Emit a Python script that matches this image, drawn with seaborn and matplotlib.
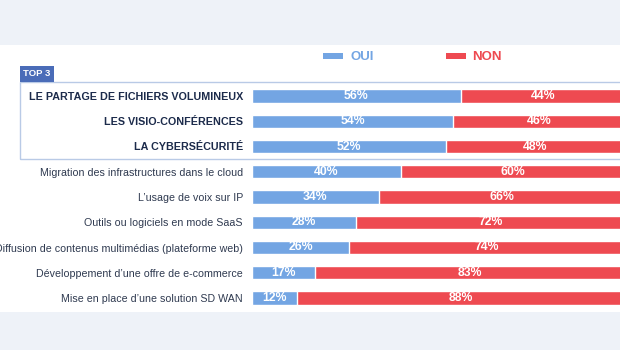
import numpy as np
import pandas as pd
import seaborn as sns
from matplotlib import pyplot as plt
from matplotlib.patches import Rectangle

categories = [
    "LE PARTAGE DE FICHIERS VOLUMINEUX",
    "LES VISIO-CONFÉRENCES",
    "LA CYBERSÉCURITÉ",
    "Migration des infrastructures dans le cloud",
    "L’usage de voix sur IP",
    "Outils ou logiciels en mode SaaS",
    "Diffusion de contenus multimédias (plateforme web)",
    "Développement d’une offre de e-commerce",
    "Mise en place d’une solution SD WAN",
]
oui = [56, 54, 52, 40, 34, 28, 26, 17, 12]
non = [44, 46, 48, 60, 66, 72, 74, 83, 88]
top3 = 3

BLUE = "#73a5e3"
RED = "#ee4a51"
BG = "#eef2f8"

sns.set_theme(style="white")
plt.rcParams["font.family"] = ["Liberation Sans", "DejaVu Sans"]

df = pd.DataFrame({"cat": categories, "oui": oui, "non": non})
df["total"] = df["oui"] + df["non"]

W, H = 620, 350
fig = plt.figure(figsize=(6.2, 3.5), dpi=100)
fig.patch.set_facecolor("white")

# grey bands top and bottom
fig.patches.append(Rectangle((0, 1 - 45 / H), 1, 45 / H, transform=fig.transFigure,
                             facecolor=BG, edgecolor="none", zorder=0))
fig.patches.append(Rectangle((0, 0), 1, 38 / H, transform=fig.transFigure,
                             facecolor=BG, edgecolor="none", zorder=0))

# axes: first row centre at y=96px, spacing ~25.25px
step = 25.25
top_px = 96 - step / 2
bot_px = top_px + step * len(categories)
ax = fig.add_axes([252 / W, 1 - bot_px / H, (W - 252) / W, (bot_px - top_px) / H])
ax.set_facecolor("none")

sns.barplot(data=df, x="total", y="cat", color=RED, width=0.53, saturation=1, ax=ax)
sns.barplot(data=df, x="oui", y="cat", color=BLUE, width=0.53, saturation=1, ax=ax)

ax.set_xlim(0, (W - 252) / 373 * 100)
ax.set_xlabel("")
ax.set_ylabel("")
ax.set_xticks([])
for s in ax.spines.values():
    s.set_visible(False)

ax.tick_params(axis="y", length=0, pad=6.5)
for i, lab in enumerate(ax.get_yticklabels()):
    if i < top3:
        lab.set_fontweight("bold")
        lab.set_color("#1c2b4b")
        lab.set_fontsize(7.75)
    else:
        lab.set_color("#2f3a50")
        lab.set_fontsize(7.7)

for i, (o, n) in enumerate(zip(df["oui"], df["non"])):
    ax.text(o / 2, i, f"{o}%", ha="center", va="center", color="white",
            fontsize=8.8, fontweight="bold")
    ax.text(o + n / 2, i, f"{n}%", ha="center", va="center", color="white",
            fontsize=8.8, fontweight="bold")

# TOP 3 box
fig.patches.append(Rectangle((20 / W, 1 - 159 / H), 1.0, 77 / H, transform=fig.transFigure,
                             facecolor="none", edgecolor="#b9cae6", lw=1.0, zorder=1))
fig.patches.append(Rectangle((20 / W, 1 - 82 / H), 34 / W, 16 / H, transform=fig.transFigure,
                             facecolor="#4a6cb8", edgecolor="none", zorder=2))
fig.text(37 / W, 1 - 74 / H, "TOP 3", ha="center", va="center", color="white",
         fontsize=6.8, fontweight="bold")

# legend
fig.patches.append(Rectangle((323 / W, 1 - 59 / H), 20 / W, 6 / H, transform=fig.transFigure,
                             facecolor=BLUE, edgecolor="none"))
fig.text(350 / W, 1 - 56.5 / H, "OUI", ha="left", va="center", color=BLUE,
         fontsize=9.5, fontweight="bold")
fig.patches.append(Rectangle((446 / W, 1 - 59 / H), 20 / W, 6 / H, transform=fig.transFigure,
                             facecolor=RED, edgecolor="none"))
fig.text(472 / W, 1 - 56.5 / H, "NON", ha="left", va="center", color=RED,
         fontsize=9.5, fontweight="bold")

fig.savefig("out.png", dpi=100)
